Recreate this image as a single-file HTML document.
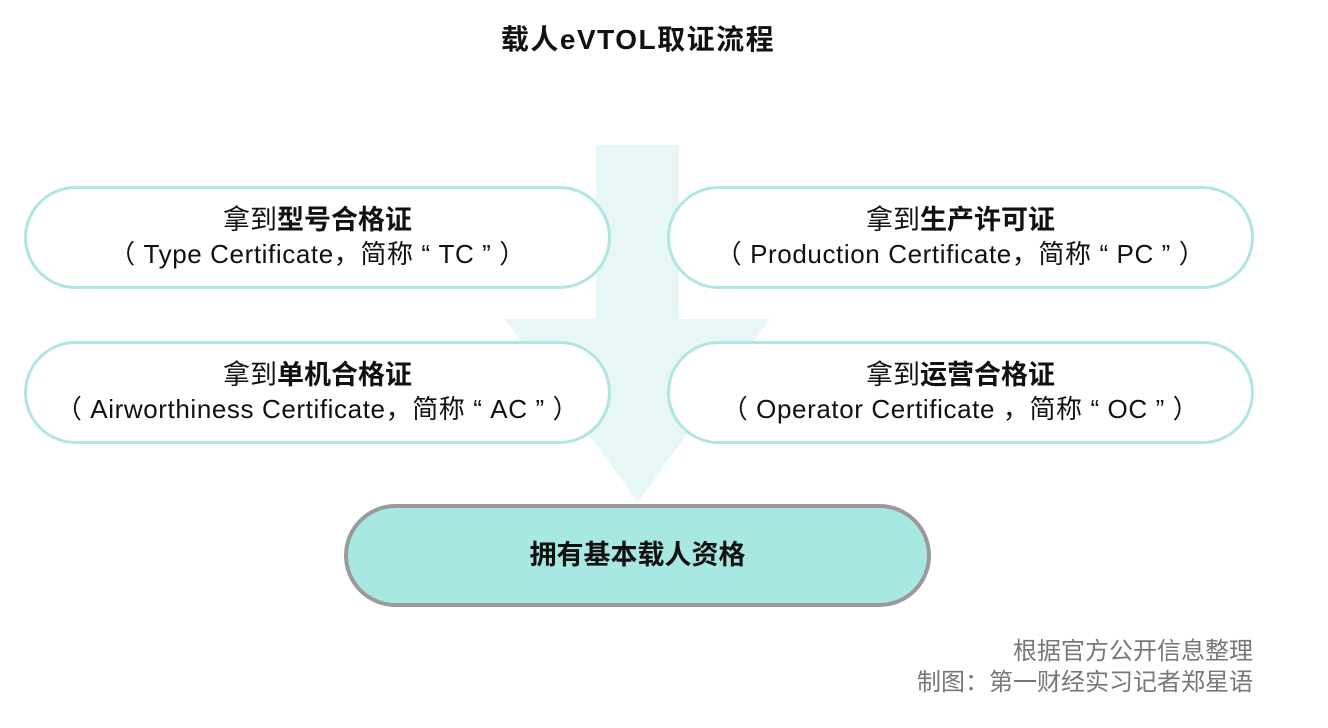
<!DOCTYPE html>
<html><head><meta charset="utf-8"><style>
body{margin:0;width:1328px;height:728px;background:#fff;position:relative;overflow:hidden;font-family:"Liberation Sans","Noto Sans CJK SC",sans-serif;color:#111}
.t{position:absolute;left:0;width:1276px;top:18px;text-align:center;font-weight:bold;font-size:28px;letter-spacing:1.5px}
.b{position:absolute;box-sizing:border-box;width:587px;height:103px;border:3px solid #b0e6e2;border-radius:52px;background:#fff;text-align:center;font-size:26px;line-height:34px;padding-top:14px;white-space:nowrap}
.b .l1{font-size:27px}
.b .l2{letter-spacing:0.6px}
.b b{font-weight:bold}
.f{position:absolute;right:75px;text-align:right;color:#777;font-size:24px;line-height:31px;top:636px}
</style></head><body>
<div class="t">载人eVTOL取证流程</div>
<svg style="position:absolute;left:0;top:0" width="1328" height="728"><polygon points="596,145 679,145 679,319 770,319 638,502 505,319 596,319" fill="#e6f7f6"/></svg>
<div class="b" style="left:24px;top:186px"><span class="l1">拿到<b>型号合格证</b></span><br><span class="l2">（ Type Certificate，简称 “ TC ” ）</span></div>
<div class="b" style="left:667px;top:186px"><span class="l1">拿到<b>生产许可证</b></span><br><span class="l2">（ Production Certificate，简称 “ PC ” ）</span></div>
<div class="b" style="left:24px;top:341px"><span class="l1">拿到<b>单机合格证</b></span><br><span class="l2">（ Airworthiness Certificate，简称 “ AC ” ）</span></div>
<div class="b" style="left:667px;top:341px"><span class="l1">拿到<b>运营合格证</b></span><br><span class="l2">（ Operator Certificate ，简称 “ OC ” ）</span></div>
<div class="b" style="left:344px;top:504px;border:4px solid #9a9a9a;background:#a8e8e2;font-weight:bold;font-size:27px;line-height:95px;padding-top:0">拥有基本载人资格</div>
<div class="f">根据官方公开信息整理<br>制图：第一财经实习记者郑星语</div>
</body></html>
